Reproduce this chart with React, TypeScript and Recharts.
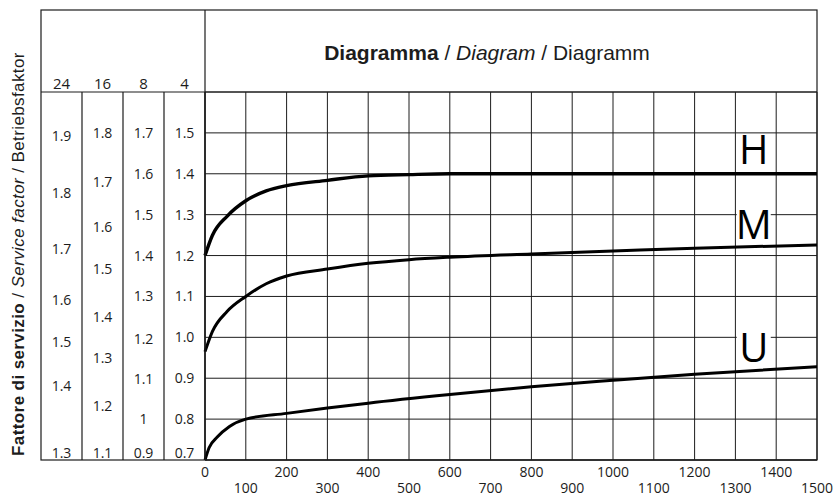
import React from 'react'
import { LineChart, Line, XAxis, YAxis, CartesianGrid, ReferenceDot } from 'recharts'

// operating hours (x) and service factor at 4 h/day (y)
const hX = [0, 18, 54, 100, 150, 200, 300, 400, 500, 600, 800, 1000, 1200, 1500]
const hY = [1.2, 1.249, 1.296, 1.334, 1.358, 1.371, 1.384, 1.395, 1.398, 1.4, 1.4, 1.4, 1.4, 1.4]
const mX = [0, 18, 54, 100, 150, 200, 300, 400, 500, 600, 800, 1000, 1200, 1500]
const mY = [0.965, 1.014, 1.063, 1.1, 1.131, 1.15, 1.167, 1.181, 1.19, 1.196, 1.204, 1.211, 1.218, 1.226]
const uX = [0, 10, 30, 60, 100, 200, 300, 400, 600, 800, 1000, 1200, 1500]
const uY = [0.7, 0.73, 0.756, 0.782, 0.8, 0.814, 0.827, 0.839, 0.86, 0.879, 0.895, 0.91, 0.928]

const curveNames = ['H', 'M', 'U']
const nameX = [1345, 1345, 1345]
const nameY = [1.458, 1.275, 0.974]

const xTicks = [0, 100, 200, 300, 400, 500, 600, 700, 800, 900, 1000, 1100, 1200, 1300, 1400, 1500]
const gridY = [0.7, 0.8, 0.9, 1.0, 1.1, 1.2, 1.3, 1.4, 1.5, 1.6]

// side scales: hours/day, labels, and where each label sits on the 4 h scale
const colHours = ['4', '8', '16', '24']
const col4Labels = ['1.5', '1.4', '1.3', '1.2', '1.1', '1.0', '0.9', '0.8', '0.7']
const col4At = [1.5, 1.4, 1.3, 1.2, 1.1, 1.0, 0.9, 0.8, 0.717]
const col8Labels = ['1.7', '1.6', '1.5', '1.4', '1.3', '1.2', '1.1', '1', '0.9']
const col8At = [1.5, 1.4, 1.3, 1.2, 1.1, 0.997, 0.899, 0.8, 0.717]
const col16Labels = ['1.8', '1.7', '1.6', '1.5', '1.4', '1.3', '1.2', '1.1']
const col16At = [1.499, 1.381, 1.269, 1.168, 1.05, 0.95, 0.832, 0.717]
const col24Labels = ['1.9', '1.8', '1.7', '1.6', '1.5', '1.4', '1.3']
const col24At = [1.492, 1.354, 1.215, 1.092, 0.989, 0.881, 0.717]

const W = 838
const HGT = 497
const FRAME_TOP = 10
const PLOT_TOP = 92
const LEFT = 41
const COL_W = 41
const RIGHT = 21
const X_AXIS_H = 37
const INK = '#1c1c1c'
const NUM_FONT = '"Open Sans", sans-serif'
const TXT_FONT = '"Liberation Sans", Arial, sans-serif'

const plotLeft = LEFT + COL_W * 4
const plotRight = W - RIGHT
const plotBottom = HGT - X_AXIS_H

const zip = (xs: number[], ys: number[]) => xs.map((x, i) => ({ x, v: ys[i] }))

const curves = [
  { name: 'H', data: zip(hX, hY) },
  { name: 'M', data: zip(mX, mY) },
  { name: 'U', data: zip(uX, uY) },
]

// ids sort alphabetically in recharts, first one sits next to the plot
const columns = [
  { id: 'ya', hours: colHours[0], labels: col4Labels, at: col4At },
  { id: 'yb', hours: colHours[1], labels: col8Labels, at: col8At },
  { id: 'yc', hours: colHours[2], labels: col16Labels, at: col16At },
  { id: 'yd', hours: colHours[3], labels: col24Labels, at: col24At },
]

function colTick(labels: string[], at: number[]) {
  return (props: any) => {
    const val = Number(props.payload?.value)
    let i = at.findIndex((a) => Math.abs(a - val) < 1e-6)
    if (i < 0) i = props.index
    return (
      <text
        x={props.x - COL_W / 2}
        y={props.y}
        dy={5}
        textAnchor="middle"
        fontSize={14}
        fontFamily={NUM_FONT}
        fill={INK}
      >
        {labels[i]}
      </text>
    )
  }
}

function XTick(props: any) {
  const i = xTicks.indexOf(props.payload.value)
  return (
    <text
      x={props.x}
      y={props.y + (i % 2 === 0 ? 17 : 33)}
      textAnchor="middle"
      fontSize={14}
      fontFamily={NUM_FONT}
      fill={INK}
    >
      {props.payload.value}
    </text>
  )
}

function nameTag(name: string) {
  return (p: any) => (
    <g>
      <rect x={p.cx - 17} y={p.cy - 16} width={34} height={32} fill="#fff" />
      <text x={p.cx} y={p.cy + 14} textAnchor="middle" fontSize={40} fontFamily={NUM_FONT} fill="#000">
        {name}
      </text>
    </g>
  )
}

function Frame() {
  return (
    <g>
      <g stroke={INK} strokeWidth={1.2} fill="none">
        <rect x={LEFT} y={FRAME_TOP} width={plotRight - LEFT} height={plotBottom - FRAME_TOP} />
        <line x1={LEFT} y1={PLOT_TOP} x2={plotRight} y2={PLOT_TOP} />
        <line x1={plotLeft} y1={FRAME_TOP} x2={plotLeft} y2={plotBottom} />
      </g>
      <text x={487} y={60} textAnchor="middle" fontSize={21} fontFamily={TXT_FONT} fill={INK}>
        <tspan fontWeight="bold">Diagramma</tspan>
        <tspan>{' / '}</tspan>
        <tspan fontStyle="italic">Diagram</tspan>
        <tspan>{' / Diagramm'}</tspan>
      </text>
      <text
        transform="translate(24, 254) rotate(-90)"
        textAnchor="middle"
        fontSize={17}
        letterSpacing={0.4}
        fontFamily={TXT_FONT}
        fill={INK}
      >
        <tspan fontWeight="bold">Fattore di servizio</tspan>
        <tspan>{' / '}</tspan>
        <tspan fontStyle="italic">Service factor</tspan>
        <tspan>{' / Betriebsfaktor'}</tspan>
      </text>
    </g>
  )
}

export default function App() {
  return (
    <div style={{ position: 'absolute', left: 0, top: 0, background: '#fff' }}>
      <LineChart
        width={W}
        height={HGT}
        margin={{ top: PLOT_TOP, right: RIGHT, bottom: 0, left: LEFT }}
      >
        <CartesianGrid yAxisId="main" stroke={INK} strokeWidth={1} />
        <XAxis
          type="number"
          dataKey="x"
          domain={[0, 1500]}
          ticks={xTicks}
          interval={0}
          tickLine={false}
          tickSize={0}
          tickMargin={0}
          height={X_AXIS_H}
          axisLine={{ stroke: INK, strokeWidth: 1.2 }}
          tick={<XTick />}
        />
        <YAxis yAxisId="main" hide width={0} type="number" domain={[0.7, 1.6]} ticks={gridY} />
        {columns.map((c) => (
          <YAxis
            key={c.id}
            yAxisId={c.id}
            type="number"
            domain={[0.7, 1.6]}
            allowDataOverflow
            ticks={c.at}
            interval={0}
            width={COL_W}
            tickSize={0}
            tickMargin={0}
            tickLine={false}
            axisLine={{ stroke: INK, strokeWidth: 1.2 }}
            tick={colTick(c.labels, c.at)}
            label={{
              value: c.hours,
              position: 'top',
              offset: 3,
              fontSize: 15,
              fontFamily: NUM_FONT,
              fill: INK,
            }}
          />
        ))}
        {curves.map((c) => (
          <Line
            key={c.name}
            yAxisId="main"
            data={c.data}
            dataKey="v"
            type="monotone"
            stroke="#000"
            strokeWidth={c.name === 'H' ? 3.4 : 3}
            dot={false}
            activeDot={false}
            isAnimationActive={false}
          />
        ))}
        {curveNames.map((n, i) => (
          <ReferenceDot key={n} yAxisId="main" x={nameX[i]} y={nameY[i]} r={0} shape={nameTag(n)} />
        ))}
        <Frame />
      </LineChart>
    </div>
  )
}
